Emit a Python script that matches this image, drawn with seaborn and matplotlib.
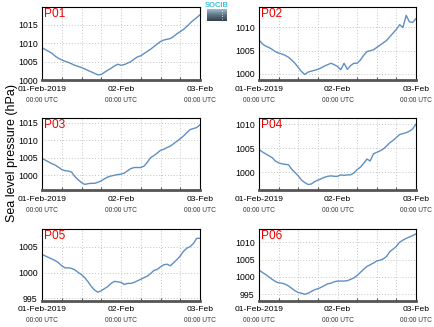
import numpy as np
import pandas as pd
import matplotlib
matplotlib.use("Agg")
import matplotlib.pyplot as plt
import matplotlib.dates as mdates
from matplotlib.ticker import MultipleLocator
from matplotlib.colors import LinearSegmentedColormap
import seaborn as sns

# Hourly sea level pressure (hPa), 01-Feb-2019 00:00 UTC to 03-Feb-2019 00:00 UTC
stations = ["P01", "P02", "P03", "P04", "P05", "P06"]

p01 = [1008.8, 1008.3, 1007.8, 1007.3, 1006.5, 1005.9, 1005.5, 1005.1, 1004.8, 1004.4,
       1004.0, 1003.7, 1003.4, 1003.0, 1002.6, 1002.2, 1001.8, 1001.4, 1001.5, 1002.1,
       1002.7, 1003.2, 1003.8, 1004.3, 1004.0, 1004.2, 1004.6, 1005.0, 1005.7, 1006.3,
       1006.6, 1007.2, 1007.8, 1008.4, 1009.1, 1009.8, 1010.5, 1010.9, 1011.1, 1011.3,
       1011.9, 1012.6, 1013.2, 1013.8, 1014.6, 1015.5, 1016.3, 1017.0, 1017.8]
p02 = [1007.3, 1006.5, 1006.0, 1005.7, 1005.3, 1004.8, 1004.5, 1004.3, 1004.0, 1003.6,
       1003.0, 1002.3, 1001.4, 1000.5, 999.9, 1000.4, 1000.6, 1000.8, 1001.0, 1001.3,
       1001.7, 1002.0, 1002.3, 1002.0, 1001.6, 1000.9, 1002.3, 1001.0, 1001.8, 1002.3,
       1002.3, 1003.0, 1004.0, 1004.8, 1005.0, 1005.2, 1005.7, 1006.2, 1006.7, 1007.2,
       1008.0, 1008.8, 1009.6, 1010.6, 1010.0, 1012.6, 1011.2, 1011.1, 1011.9]
p03 = [1004.8, 1004.3, 1003.8, 1003.3, 1002.9, 1002.3, 1001.6, 1001.3, 1001.2, 1000.9,
       999.6, 998.7, 997.9, 997.4, 997.6, 997.7, 997.7, 998.0, 998.4, 999.0,
       999.5, 999.8, 1000.0, 1000.2, 1000.3, 1000.6, 1001.3, 1001.9, 1002.2, 1002.2,
       1002.2, 1002.6, 1003.7, 1005.0, 1005.6, 1006.3, 1007.1, 1007.4, 1007.9, 1008.3,
       1009.0, 1009.7, 1010.4, 1011.2, 1012.1, 1013.0, 1013.3, 1013.6, 1014.4]
p04 = [1004.7, 1004.2, 1003.8, 1003.4, 1003.0, 1002.3, 1001.9, 1001.7, 1001.6, 1001.5,
       1000.6, 999.9, 999.2, 998.3, 997.8, 997.4, 997.5, 998.0, 998.3, 998.6,
       998.9, 999.1, 999.2, 999.1, 999.1, 999.4, 999.3, 999.4, 999.4, 999.8,
       1000.5, 1001.0, 1001.8, 1002.7, 1002.3, 1003.8, 1004.1, 1004.4, 1004.8, 1005.4,
       1006.1, 1006.6, 1007.2, 1007.8, 1008.0, 1008.2, 1008.5, 1009.0, 1010.0]
p05 = [1003.5, 1003.2, 1002.9, 1002.6, 1002.3, 1001.9, 1001.3, 1000.9, 1000.9, 1000.8,
       1000.5, 1000.0, 999.6, 999.0, 998.2, 997.3, 996.6, 996.2, 996.5, 996.9,
       997.3, 997.9, 998.3, 998.2, 998.1, 997.7, 997.9, 997.9, 998.1, 998.4,
       998.7, 999.0, 999.3, 999.8, 1000.4, 1000.6, 1001.1, 1001.5, 1001.6, 1001.3,
       1001.9, 1002.5, 1003.2, 1004.1, 1004.7, 1005.0, 1005.6, 1006.6, 1006.6]
p06 = [1002.0, 1001.3, 1000.7, 1000.0, 999.3, 998.7, 998.3, 998.2, 997.9, 997.4,
       996.7, 996.0, 995.5, 995.3, 995.0, 995.3, 995.8, 996.3, 996.6, 997.0,
       997.5, 998.0, 998.2, 998.6, 998.8, 998.8, 998.8, 998.9, 999.3, 999.7,
       1000.4, 1001.3, 1002.2, 1003.0, 1003.5, 1004.0, 1004.6, 1004.8, 1005.2, 1005.9,
       1007.3, 1008.0, 1008.8, 1010.0, 1010.6, 1011.1, 1011.5, 1011.9, 1012.4]
series = [p01, p02, p03, p04, p05, p06]

tick_labels = ["01-Feb-2019", "02-Feb", "03-Feb"]
tick_sub = "00:00 UTC"
ylabel = "Sea level pressure (hPa)"

times = pd.date_range("2019-02-01 00:00", periods=49, freq="h")
tick_times = pd.to_datetime(["2019-02-01", "2019-02-02", "2019-02-03"])

sns.set_theme(style="white")
plt.rcParams["font.family"] = ["Liberation Sans", "DejaVu Sans"]

W, H = 434, 327
fig = plt.figure(figsize=(W / 100, H / 100), dpi=100)

# panel boxes in pixels: left, top, right, bottom
boxes = [(42, 7, 200, 80), (259, 7, 416, 80),
         (42, 118, 200, 190), (259, 118, 416, 190),
         (42, 229, 200, 300.5), (259, 229, 416, 300.5)]
ylims = [(1000.0, 1019.9), (998.7, 1014.4), (995.8, 1016.3),
         (996.25, 1011.25), (994.6, 1008.4), (993.2, 1013.8)]

line_color = "#5f8fc2"
grid_kw = dict(color="#c4c4c4", linestyle=(0, (1, 2)), linewidth=0.7)

for name, vals, (l, t, r, b), ylim in zip(stations, series, boxes, ylims):
    ax = fig.add_axes([l / W, 1 - b / H, (r - l) / W, (b - t) / H])
    df = pd.DataFrame({"time": times, "slp": vals})
    sns.lineplot(data=df, x="time", y="slp", ax=ax, color=line_color, linewidth=1.0)
    ax.set_xlim(tick_times[0], tick_times[-1])
    ax.set_ylim(*ylim)
    ax.set_xlabel("")
    ax.set_ylabel("")

    ax.yaxis.set_major_locator(MultipleLocator(5))
    ax.yaxis.set_major_formatter(matplotlib.ticker.FormatStrFormatter("%d"))
    ax.tick_params(axis="y", length=0, pad=3.2, labelsize=6.3, labelcolor="black")

    ax.set_xticks(tick_times)
    ax.set_xticklabels(tick_labels)
    ax.xaxis.set_minor_locator(mdates.HourLocator(byhour=[6, 12, 18]))
    ax.tick_params(axis="x", which="major", length=0, pad=4.0, labelsize=6.1,
                   labelcolor="black")
    ax.tick_params(axis="x", which="minor", direction="in", length=2.5,
                   width=0.8, color="#555555", bottom=True)

    ax.grid(True, which="major", **grid_kw)
    ax.grid(True, which="minor", axis="x", **grid_kw)

    for side in ("left", "top", "right"):
        ax.spines[side].set_color("black")
        ax.spines[side].set_linewidth(0.8)
    ax.spines["bottom"].set_color("#555555")
    ax.spines["bottom"].set_linewidth(2.0)

    for tt in tick_times:
        ax.annotate(tick_sub, xy=(mdates.date2num(tt), 0),
                    xycoords=("data", "axes fraction"),
                    xytext=(0, -14.5), textcoords="offset points",
                    ha="center", va="center", fontsize=4.8, color="#333333")

    ax.text(0.014, 0.985, name, transform=ax.transAxes, ha="left", va="top",
            fontsize=8.6, color="#ee0000")

fig.text(12 / W, 1 - 153 / H, ylabel, rotation=90, ha="center", va="center",
         fontsize=9, color="black")

# small institutional badge at the top centre
logo_ax = fig.add_axes([207 / W, 1 - 21 / H, 20 / W, 12 / H])
grad = np.linspace(0, 1, 32).reshape(-1, 1)
cmap = LinearSegmentedColormap.from_list("badge", ["#9ebccc", "#5d7482", "#33424c"])
logo_ax.imshow(grad, aspect="auto", cmap=cmap, extent=(0, 1, 0, 1))
logo_ax.plot([0.75, 0.75], [0.15, 0.9], color="white", linestyle=(0, (1, 2)), linewidth=0.6)
logo_ax.set_axis_off()
fig.text(217 / W, 1 - 5.5 / H, "SOCIB", ha="center", va="center",
         fontsize=5.5, color="#3ec3d8", fontweight="bold")

fig.savefig("out.png", dpi=100)
